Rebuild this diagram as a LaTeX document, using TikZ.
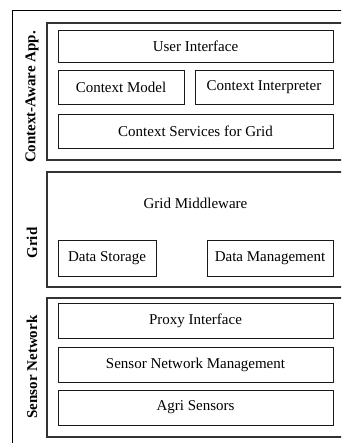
\documentclass[tikz,border=0pt]{standalone}
\usepackage{fontspec}
\setmainfont{Liberation Serif}
\begin{document}
\begin{tikzpicture}[x=1pt,y=-1pt,
  frame/.style={draw=black,line width=0.9pt},
  panel/.style={draw=black!80,line width=1.1pt},
  box/.style={draw=black!90,line width=0.8pt,fill=white,inner sep=0pt,font=\fontsize{15}{17}\selectfont},
  lbl/.style={rotate=90,font=\bfseries\fontsize{15}{17}\selectfont,inner sep=0pt}]
\useasboundingbox (0,0) rectangle (341,443);
\clip (0,0) rectangle (341,443);
% outer frame
\draw[frame] (12,460) -- (12,10) -- (360,10);
% panels
\draw[panel] (360,23) -- (47,23) -- (47,160) -- (360,160);
\draw[panel] (360,172) -- (47,172) -- (47,287) -- (360,287);
\draw[panel] (360,298) -- (47,298) -- (47,437) -- (360,437);
% panel 1 boxes
\node[box,minimum width=275pt,minimum height=32pt] (ui) at (195.5,46) {User Interface};
\node[box,minimum width=126pt,minimum height=34pt] (cm) at (121,87) {Context Model};
\node[box,minimum width=138pt,minimum height=34pt] (ci) at (264,87) {Context Interpreter};
\node[box,minimum width=275pt,minimum height=34pt] (cs) at (195.5,131) {Context Services for Grid};
% panel 2
\node[font=\fontsize{15}{17}\selectfont] (gm) at (195.5,203) {Grid Middleware};
\node[box,minimum width=98pt,minimum height=36pt] (ds) at (107,258) {Data Storage};
\node[box,minimum width=126pt,minimum height=36pt] (dm) at (270,258) {Data Management};
% panel 3
\node[box,minimum width=275pt,minimum height=35pt] (pi) at (195.5,320.5) {Proxy Interface};
\node[box,minimum width=275pt,minimum height=35pt] (sn) at (195.5,364.5) {Sensor Network Management};
\node[box,minimum width=275pt,minimum height=35pt] (as) at (195.5,407.5) {Agri Sensors};
% labels
\node[lbl] (l1) at (32,97) {Context-Aware App.};
\node[lbl] (l2) at (32,243) {Grid};
\node[lbl] (l3) at (32,367) {Sensor Network};
\end{tikzpicture}
\end{document}
